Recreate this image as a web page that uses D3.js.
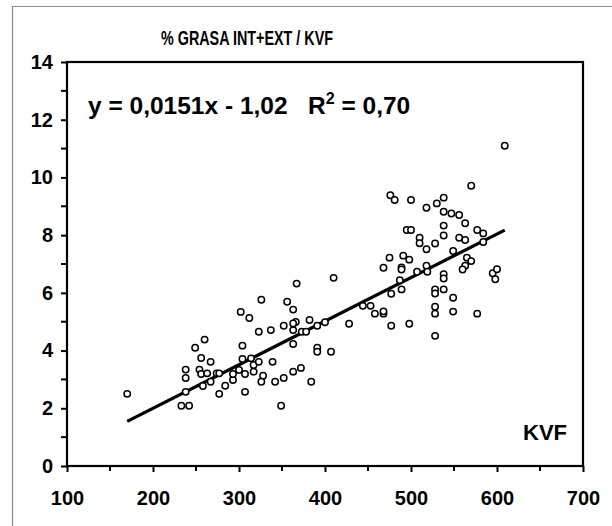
<!DOCTYPE html>
<html>
<head>
<meta charset="utf-8">
<script src="https://cdn.jsdelivr.net/npm/d3@7"></script>
<style>
  html, body { margin: 0; padding: 0; background: #fff; }
  svg { display: block; font-family: "Liberation Sans", Arial, sans-serif; }
</style>
</head>
<body>
<svg id="chart" width="612" height="526"></svg>
<script>
// --- Data ---
const KVF = [
  170, 233, 242, 238, 238, 238, 249, 260, 256, 267, 254, 256, 263, 258, 267, 274, 277, 277, 284, 293,
  293, 300, 307, 307, 304, 304, 302, 312, 317, 317, 314, 323, 323, 326, 328, 326, 337, 339, 342, 349,
  352, 352, 356, 363, 366, 363, 363, 363, 367, 363, 372, 373, 378, 382, 391, 384, 391, 391, 400, 407,
  410, 428, 444, 453, 458, 468, 468, 477, 498, 468, 475, 476, 481, 500, 489, 489, 491, 498, 489, 487,
  477, 495, 500, 510, 510, 507, 518, 528, 518, 519, 518, 530, 538, 538, 547, 556, 538, 538, 563, 556,
  563, 549, 538, 538, 528, 528, 538, 528, 528, 549, 549, 528, 577, 570, 577, 584, 584, 565, 570, 563,
  560, 595, 600, 598, 609
];
const GRASA = [
  2.50, 2.09, 2.09, 2.57, 3.05, 3.34, 4.10, 4.38, 3.74, 3.61, 3.34, 3.19, 3.21, 2.77, 2.92, 3.21, 3.21, 2.50, 2.78, 2.98,
  3.19, 3.33, 3.19, 2.57, 3.71, 4.17, 5.34, 5.13, 3.27, 3.50, 3.73, 3.61, 4.65, 5.76, 3.13, 2.92, 4.71, 3.61, 2.92, 2.09,
  4.86, 3.05, 5.69, 5.42, 4.99, 4.94, 4.71, 4.23, 6.32, 3.27, 3.40, 4.65, 4.65, 5.06, 4.86, 2.92, 4.10, 3.96, 4.98, 3.96,
  6.52, 4.93, 5.55, 5.55, 5.28, 5.28, 5.36, 4.86, 4.93, 6.87, 7.22, 9.38, 9.22, 9.22, 6.88, 6.81, 7.29, 7.15, 6.12, 6.44,
  5.97, 8.18, 8.18, 7.91, 7.72, 6.73, 7.51, 7.71, 6.94, 6.73, 8.95, 9.10, 9.30, 8.81, 8.75, 8.70, 8.33, 7.99, 8.41, 7.91,
  7.83, 7.45, 6.65, 6.50, 6.12, 5.98, 6.12, 5.52, 5.28, 5.83, 5.35, 4.51, 5.28, 9.71, 8.18, 8.06, 7.76, 7.22, 7.10, 6.94,
  6.81, 6.68, 6.82, 6.47, 11.10
];
const SLOPE = 0.0151;
const INTERCEPT = -1.02;
const X_TICKS = [100, 200, 300, 400, 500, 600, 700];
const X_MINOR = [150, 250, 350, 450, 550, 650];
const Y_TICKS = [0, 2, 4, 6, 8, 10, 12, 14];
const Y_MINOR = [1, 3, 5, 7, 9, 11, 13];
const TITLE = "% GRASA INT+EXT / KVF";
const X_LABEL = "KVF";

const points = KVF.map((x, i) => ({ x, y: GRASA[i] }));

// --- Layout ---
const svg = d3.select("#chart");
const plot = { left: 67, right: 583, top: 62, bottom: 466 };

const x = d3.scaleLinear().domain([100, 700]).range([plot.left, plot.right]);
const y = d3.scaleLinear().domain([0, 14]).range([plot.bottom, plot.top]);

// outer frame (only left & top visible in the crop)
svg.append("path")
  .attr("d", "M 12.5 530 L 12.5 6.5 L 620 6.5")
  .attr("fill", "none").attr("stroke", "#8a8a8a").attr("stroke-width", 1.2);

// title
svg.append("text")
  .attr("x", 247).attr("y", 45)
  .attr("text-anchor", "middle")
  .attr("font-size", "21px").attr("font-weight", "700")
  .attr("textLength", 172).attr("lengthAdjust", "spacingAndGlyphs")
  .text(TITLE);

// axes
const yAxis = d3.axisLeft(y).tickValues(Y_TICKS).tickSize(6).tickPadding(8).tickFormat(d3.format("d"));
const gy = svg.append("g").attr("transform", `translate(${plot.left},0)`).call(yAxis);
const xAxis = d3.axisBottom(x).tickValues(X_TICKS).tickSize(6).tickPadding(19).tickFormat(d3.format("d"));
const gx = svg.append("g").attr("transform", `translate(0,${plot.bottom})`).call(xAxis);

[gx, gy].forEach(g => {
  g.select(".domain").remove();
  g.selectAll(".tick line").attr("stroke", "#000").attr("stroke-width", 2);
  g.selectAll(".tick text").attr("fill", "#000")
    .attr("font-size", "20px").attr("font-weight", "700")
    .attr("font-family", "'Liberation Sans', Arial, sans-serif");
});

// minor ticks
svg.append("g").selectAll("line").data(Y_MINOR).join("line")
  .attr("x1", plot.left - 6).attr("x2", plot.left)
  .attr("y1", d => y(d)).attr("y2", d => y(d))
  .attr("stroke", "#000").attr("stroke-width", 2);
svg.append("g").selectAll("line").data(X_MINOR).join("line")
  .attr("x1", d => x(d)).attr("x2", d => x(d))
  .attr("y1", plot.bottom).attr("y2", plot.bottom + 5)
  .attr("stroke", "#000").attr("stroke-width", 2);

// plot frame
svg.append("rect")
  .attr("x", plot.left).attr("y", plot.top)
  .attr("width", plot.right - plot.left).attr("height", plot.bottom - plot.top)
  .attr("fill", "none").attr("stroke", "#000").attr("stroke-width", 2.2);

// equation
const eq = svg.append("text")
  .attr("x", 88).attr("y", 114)
  .attr("font-size", "24.5px").attr("font-weight", "700")
  .attr("xml:space", "preserve");
eq.append("tspan").text("y = 0,0151x - 1,02   R");
eq.append("tspan").attr("dy", -10).attr("font-size", "16px").text("2");
eq.append("tspan").attr("dy", 10).text(" = 0,70");

// KVF label
svg.append("text")
  .attr("x", 567).attr("y", 440)
  .attr("text-anchor", "end")
  .attr("font-size", "22px").attr("font-weight", "700")
  .text(X_LABEL);

// regression line over the data range
const [xmin, xmax] = d3.extent(KVF);
svg.append("line")
  .attr("x1", x(xmin)).attr("y1", y(SLOPE * xmin + INTERCEPT))
  .attr("x2", x(xmax)).attr("y2", y(SLOPE * xmax + INTERCEPT))
  .attr("stroke", "#000").attr("stroke-width", 3.2);

// points
svg.append("g").selectAll("circle").data(points).join("circle")
  .attr("cx", d => x(d.x)).attr("cy", d => y(d.y))
  .attr("r", 3.2)
  .attr("fill", "#fff")
  .attr("stroke", "#000").attr("stroke-width", 1.5);
</script>
</body>
</html>
